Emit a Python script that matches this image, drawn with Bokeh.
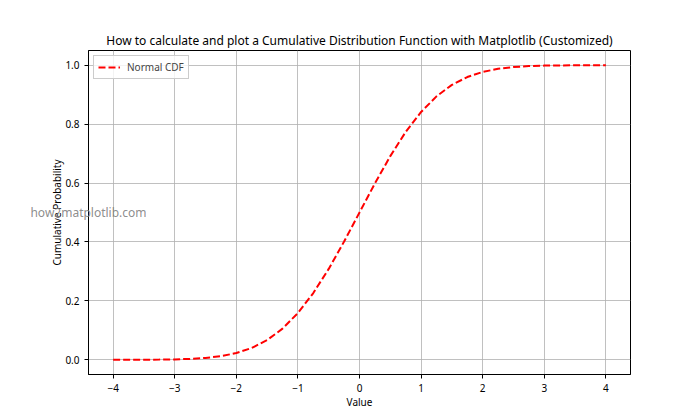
from bokeh.plotting import figure
from bokeh.models import ColumnDataSource, Range1d, Label, Legend, LegendItem, FixedTicker, CustomJSTickFormatter
from bokeh.embed import file_html
from bokeh.resources import INLINE

# Values (normal CDF curve)
x_vals = [-4.0, -3.75, -3.5, -3.25, -3.0, -2.75, -2.5, -2.25, -2.0, -1.75, -1.5, -1.25,
          -1.0, -0.75, -0.5, -0.25, 0.0, 0.25, 0.5, 0.75, 1.0, 1.25, 1.5, 1.75,
          2.0, 2.25, 2.5, 2.75, 3.0, 3.25, 3.5, 3.75, 4.0]
cdf_vals = [0.00003, 0.0001, 0.0002, 0.0006, 0.0013, 0.003, 0.0062, 0.0122, 0.0228, 0.0401, 0.0668, 0.1056,
            0.1587, 0.2266, 0.3085, 0.4013, 0.5, 0.5987, 0.6915, 0.7734, 0.8413, 0.8944, 0.9332, 0.9599,
            0.9772, 0.9878, 0.9938, 0.997, 0.9987, 0.9994, 0.9998, 0.9999, 0.99997]
x_ticks = [-4, -3, -2, -1, 0, 1, 2, 3, 4]
y_ticks = [0.0, 0.2, 0.4, 0.6, 0.8, 1.0]
title_text = "How to calculate and plot a Cumulative Distribution Function with Matplotlib (Customized)"

FONT = "Noto Sans"

p = figure(width=700, height=420, output_backend="svg", toolbar_location=None,
           x_range=Range1d(-4.4, 4.4), y_range=Range1d(-0.05, 1.05),
           frame_width=542, frame_height=324,
           min_border_left=88, min_border_right=70, min_border_top=50, min_border_bottom=46)
p.title.visible = False

src = ColumnDataSource(dict(x=x_vals, y=cdf_vals))
r = p.line("x", "y", source=src, line_color="red", line_width=2, line_dash="7 3")

for ax in (p.xaxis[0], p.yaxis[0]):
    ax.major_label_text_font = FONT
    ax.major_label_text_font_size = "10px"
    ax.major_label_text_color = "#000000"
    ax.axis_label_text_font = FONT
    ax.axis_label_text_font_size = "10px"
    ax.axis_label_text_font_style = "normal"
    ax.axis_label_text_color = "#000000"
    ax.axis_line_color = "#000000"
    ax.major_tick_line_color = "#000000"
    ax.major_tick_in = 0
    ax.major_tick_out = 4
    ax.minor_tick_line_color = None

p.xaxis.ticker = FixedTicker(ticks=x_ticks)
p.yaxis.ticker = FixedTicker(ticks=y_ticks)
p.xaxis.axis_label = "Value"
p.yaxis.axis_label = "Cumulative Probability"
p.yaxis.formatter = CustomJSTickFormatter(code="return tick.toFixed(1);")
p.xaxis.axis_label_standoff = 0
p.yaxis.axis_label_standoff = -2

p.xgrid.grid_line_color = "#b0b0b0"
p.ygrid.grid_line_color = "#b0b0b0"
p.xgrid.grid_line_width = 0.8
p.ygrid.grid_line_width = 0.8

p.outline_line_color = "#000000"
p.outline_line_width = 1

legend = Legend(items=[LegendItem(label="Normal CDF", renderers=[r])], location="top_left")
legend.label_text_font = FONT
legend.label_text_font_size = "10px"
legend.border_line_color = "#cccccc"
legend.border_line_alpha = 1
legend.background_fill_alpha = 0.8
legend.margin = 5
legend.padding = 4
legend.spacing = 0
legend.glyph_width = 22
legend.glyph_height = 12
legend.label_standoff = 7
p.add_layout(legend)

title_lbl = Label(x=359, y=40, x_units="canvas", y_units="canvas", text=title_text,
                  text_align="center", text_baseline="middle",
                  text_font=FONT, text_font_size="12px", text_color="#000000")
p.add_layout(title_lbl, "above")

wm = Label(x=88, y=212, x_units="canvas", y_units="canvas", text="how2matplotlib.com",
           text_align="center", text_baseline="middle",
           text_font=FONT, text_font_size="12px", text_color="#808080", text_alpha=0.9, level="overlay")
p.add_layout(wm, "above")

open("out.html", "w").write(file_html(p, INLINE))
